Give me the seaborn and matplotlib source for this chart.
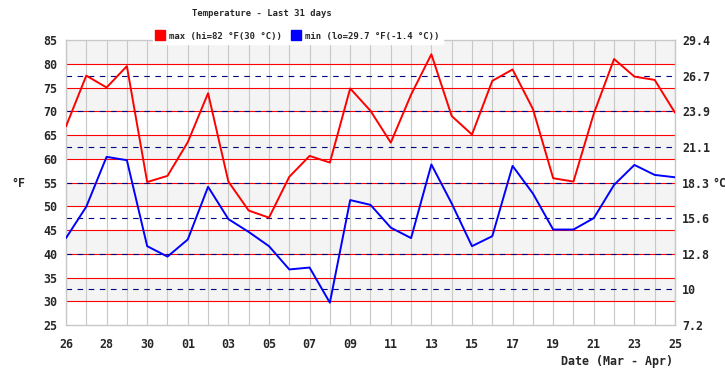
import numpy as np
import pandas as pd
import matplotlib
matplotlib.use("Agg")
import matplotlib.pyplot as plt
from matplotlib.lines import Line2D
import seaborn as sns

# === DATA ===
day_labels = ["26", "27", "28", "29", "30", "31",
              "01", "02", "03", "04", "05", "06", "07", "08", "09", "10",
              "11", "12", "13", "14", "15", "16", "17", "18", "19", "20",
              "21", "22", "23", "24", "25"]
t_max = [66.8, 77.5, 75.0, 79.5, 55.1, 56.4, 63.5, 73.8, 55.2, 49.1, 47.6,
         56.2, 60.6, 59.2, 74.8, 70.1, 63.4, 73.5, 82.0, 69.0, 65.1,
         76.4, 78.8, 70.5, 55.9, 55.2, 69.5, 81.0, 77.3, 76.6, 69.7]
t_min = [43.3, 49.9, 60.4, 59.7, 41.6, 39.4, 43.0, 54.1, 47.3, 44.6, 41.6,
         36.7, 37.1, 29.7, 51.3, 50.3, 45.5, 43.3, 58.8, 50.6, 41.6,
         43.7, 58.5, 52.7, 45.1, 45.1, 47.5, 54.5, 58.7, 56.6, 56.1]
c_labels = ["7.2", "10", "12.8", "15.6", "18.3", "21.1", "23.9", "26.7", "29.4"]
legend_labels = ["max (hi=82 °F(30 °C))", "min (lo=29.7 °F(-1.4 °C))"]


def main():
    sns.set_style("white")
    plt.rcParams["font.family"] = ["DejaVu Sans Mono"]
    plt.rcParams["font.weight"] = "bold"

    n = len(day_labels)
    df = pd.DataFrame({
        "day": list(range(n)) * 2,
        "temp": t_max + t_min,
        "series": ["max"] * n + ["min"] * n,
    })

    fig = plt.figure(figsize=(7.25, 3.8), dpi=100)
    ax = fig.add_axes([0.091, 0.1447, 0.840, 0.750])

    # background bands
    for lo in range(30, 85, 10):
        ax.axhspan(lo, lo + 5, color="#f4f4f4", zorder=0, lw=0)

    # red solid lines every 5 F, navy dashed at the C ticks
    for v in range(30, 85, 5):
        ax.axhline(v, color="red", lw=0.8, zorder=1)
    for v in np.arange(32.5, 80, 7.5):
        ax.axhline(v, color="#000080", lw=0.8, ls=(0, (5, 5)), zorder=1.5)

    sns.lineplot(data=df, x="day", y="temp", hue="series",
                 palette={"max": "#ff0000", "min": "#0000ff"},
                 lw=1.4, legend=False, ax=ax, zorder=3)

    ax.set_xlim(0, n - 1)
    ax.set_ylim(25, 85)
    ax.set_xticks(range(0, n, 2), day_labels[::2])
    ax.set_xticks(range(n), minor=True)
    ax.set_yticks(range(25, 86, 5))
    ax.grid(axis="x", which="both", color="#c8c8c8", lw=0.8, zorder=0.5)
    ax.set_axisbelow(True)
    ax.set_xlabel("")
    ax.set_ylabel("")
    ax.tick_params(axis="x", which="both", length=0, pad=9, labelsize=8.4)
    ax.tick_params(axis="y", length=0, pad=6.5, labelsize=8.4)
    for s in ax.spines.values():
        s.set_color("#c8c8c8")
        s.set_linewidth(1)

    ax2 = ax.twinx()
    ax2.set_ylim(25, 85)
    ax2.set_yticks(np.arange(25, 86, 7.5), c_labels)
    ax2.tick_params(axis="y", length=0, pad=5, labelsize=8.4)
    for s in ax2.spines.values():
        s.set_visible(False)

    fig.text(262 / 725, 1 - 13 / 380, "Temperature - Last 31 days",
             ha="center", va="center", fontsize=6.4, fontweight="bold")
    fig.text(18 / 725, 1 - 183 / 380, "°F", ha="center", va="center",
             fontsize=8.4, fontweight="bold")
    fig.text(712 / 725, 1 - 183 / 380, "°C", ha="left", va="center",
             fontsize=8.4, fontweight="bold")
    fig.text(673 / 725, 1 - 361 / 380, "Date (Mar - Apr)", ha="right",
             va="center", fontsize=8.4, fontweight="bold")

    handles = [Line2D([], [], ls="", marker="s", markersize=6.5, color=c)
               for c in ["#ff0000", "#0000ff"]]
    leg = fig.legend(handles, legend_labels, loc="center",
                     bbox_to_anchor=(298 / 725, 1 - 36 / 380), ncol=2,
                     fontsize=6.5, frameon=True, fancybox=False,
                     handlelength=0.8, handletextpad=0.6, columnspacing=1.2,
                     borderpad=0.4, borderaxespad=0)
    leg.get_frame().set_facecolor("white")
    leg.get_frame().set_edgecolor("white")
    leg.get_frame().set_alpha(1)
    leg.set_zorder(10)

    fig.savefig("out.png", dpi=100, facecolor="white")
    plt.close(fig)


if __name__ == "__main__":
    main()
